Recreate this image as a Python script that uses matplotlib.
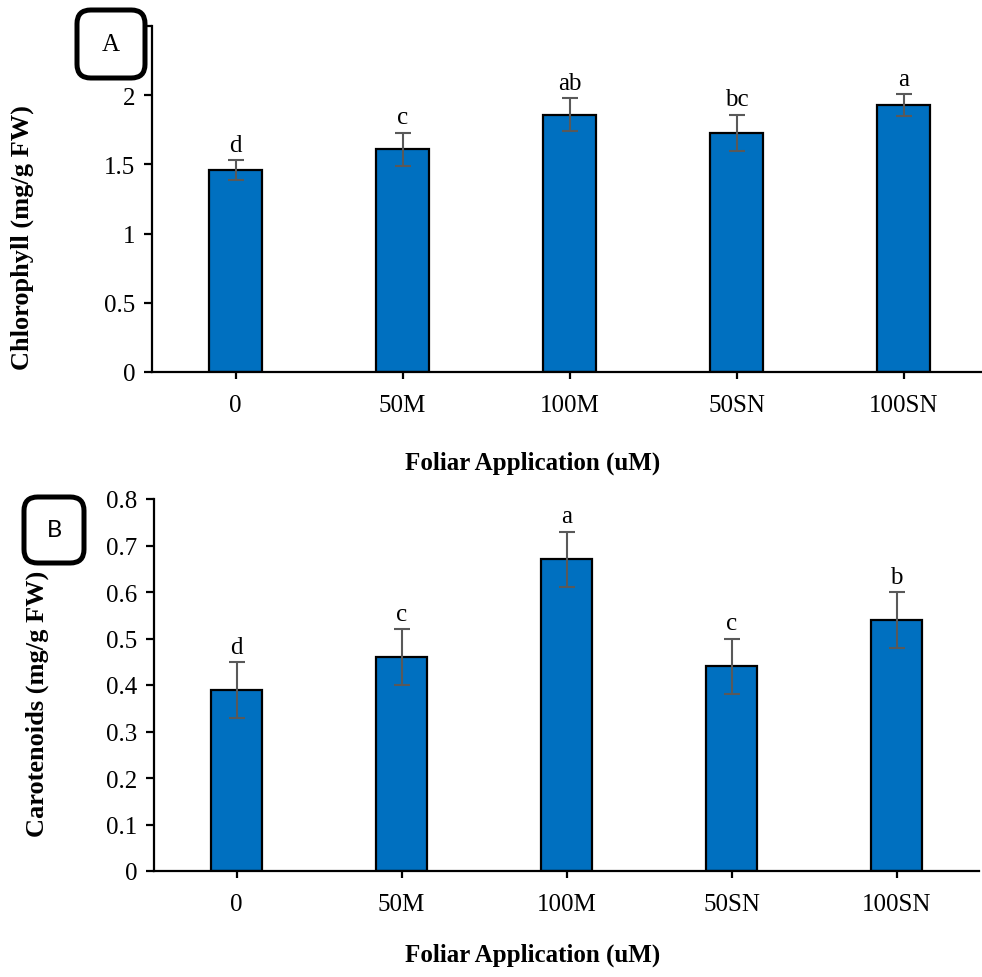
import matplotlib
matplotlib.use("Agg")
import matplotlib.pyplot as plt
from matplotlib.patches import FancyBboxPatch

plt.rcParams['font.family'] = ['Liberation Serif', 'DejaVu Serif']

treatments = ["0", "50M", "100M", "50SN", "100SN"]

chl_mean = [1.46, 1.61, 1.86, 1.73, 1.93]
chl_err = [0.07, 0.12, 0.12, 0.13, 0.08]
chl_letters = ["d", "c", "ab", "bc", "a"]

car_mean = [0.39, 0.46, 0.67, 0.44, 0.54]
car_err = [0.06, 0.06, 0.06, 0.06, 0.06]
car_letters = ["d", "c", "a", "c", "b"]

# top tick (2.5) sits under the panel tag, so its label is left blank
chl_ticks = [0, 0.5, 1, 1.5, 2, 2.5]
chl_ticklabels = ["0", "0.5", "1", "1.5", "2", ""]
car_ticks = [0, 0.1, 0.2, 0.3, 0.4, 0.5, 0.6, 0.7, 0.8]
car_ticklabels = ["0", "0.1", "0.2", "0.3", "0.4", "0.5", "0.6", "0.7", "0.8"]

BAR_COLOR = "#0070C0"
ERR_COLOR = "#595959"
FS = 18

fig = plt.figure(figsize=(9.82, 9.78), dpi=100)
ax1 = fig.add_axes([152 / 982, 1 - 373 / 978, 835 / 982, 346 / 978])
ax2 = fig.add_axes([154 / 982, 1 - 872 / 978, 825 / 982, 372 / 978])


def draw_panel(ax, means, errs, letters, ticks, ticklabels, ymax, width):
    x = list(range(len(treatments)))
    ax.bar(x, means, width=width, color=BAR_COLOR, edgecolor="black",
           linewidth=1.6, zorder=2)
    ax.errorbar(x, means, yerr=errs, fmt="none", ecolor=ERR_COLOR,
                elinewidth=1.5, capsize=6, capthick=1.5, zorder=3)
    for xi, m, e, lab in zip(x, means, errs, letters):
        ax.annotate(lab, (xi, m + e), xytext=(0, 3), textcoords="offset points",
                    ha="center", va="bottom", fontsize=FS)
    ax.set_xlim(-0.5, len(treatments) - 0.5)
    ax.set_ylim(0, ymax)
    ax.set_xticks(x)
    ax.set_xticklabels(treatments, fontsize=FS)
    ax.set_yticks(ticks)
    ax.set_yticklabels(ticklabels, fontsize=FS)
    for s in ("top", "right"):
        ax.spines[s].set_visible(False)
    for s in ("left", "bottom"):
        ax.spines[s].set_linewidth(1.6)
    ax.tick_params(axis="y", direction="out", length=6, width=1.6, pad=6)
    ax.tick_params(axis="x", direction="out", length=5, width=1.6, pad=11)


draw_panel(ax1, chl_mean, chl_err, chl_letters, chl_ticks, chl_ticklabels,
           2.5, 0.32)
draw_panel(ax2, car_mean, car_err, car_letters, car_ticks, car_ticklabels,
           0.8, 0.315)

# Axis titles
fig.text(22 / 982, 1 - 238 / 978, "Chlorophyll (mg/g FW)", rotation=90,
         ha="center", va="center", fontsize=19, fontweight="bold")
fig.text(37 / 982, 1 - 704 / 978, "Carotenoids (mg/g FW)", rotation=90,
         ha="center", va="center", fontsize=19, fontweight="bold")
fig.text(533 / 982, 1 - 463 / 978, "Foliar Application (uM)", ha="center",
         va="center", fontsize=FS, fontweight="bold")
fig.text(533 / 982, 1 - 955 / 978, "Foliar Application (uM)", ha="center",
         va="center", fontsize=FS, fontweight="bold")


# Panel tags in rounded boxes
def tag(x0, y0, x1, y1, label, family, size):
    w = (x1 - x0) / 982
    h = (y1 - y0) / 978
    box = FancyBboxPatch((x0 / 982, 1 - y1 / 978), w, h,
                         boxstyle="round,pad=0,rounding_size=0.014",
                         transform=fig.transFigure, facecolor="white",
                         edgecolor="black", linewidth=3.6, zorder=10)
    fig.add_artist(box)
    fig.text((x0 + x1) / 2 / 982, 1 - (y0 + y1) / 2 / 978, label,
             ha="center", va="center", fontsize=size, family=family, zorder=11)


tag(77, 11, 145, 79, "A", ["Liberation Serif"], 18)
tag(24, 498, 84, 564, "B", ["Lato", "DejaVu Sans"], 17)

fig.savefig("out.png", dpi=100, facecolor="white")
